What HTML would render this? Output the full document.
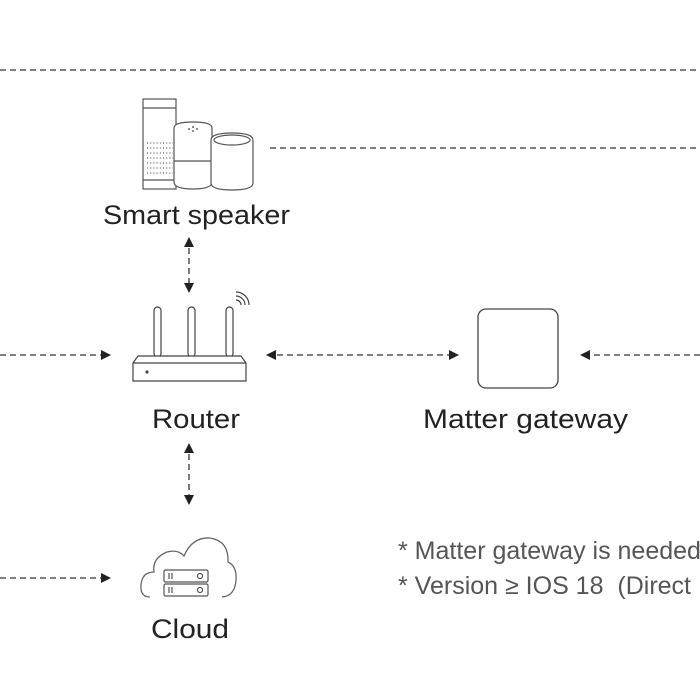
<!DOCTYPE html>
<html><head><meta charset="utf-8"><style>
html,body{margin:0;padding:0;background:#fff;}
svg{display:block}
</style></head><body>
<svg width="700" height="700" viewBox="0 0 700 700" xmlns="http://www.w3.org/2000/svg" font-family="Liberation Sans, DejaVu Sans, sans-serif">
<defs>
<marker id="a" viewBox="0 0 10 10" refX="9" refY="5" markerWidth="10" markerHeight="10" markerUnits="userSpaceOnUse" orient="auto-start-reverse"><path d="M0,0 L10,5 L0,10z" fill="#222"/></marker>
</defs>
<g stroke="#333" stroke-width="1.3" stroke-dasharray="6,4" fill="none">
<line x1="0" y1="70" x2="700" y2="70"/>
<line x1="270" y1="148" x2="700" y2="148"/>
<line x1="189" y1="238" x2="189" y2="292" marker-start="url(#a)" marker-end="url(#a)"/>
<line x1="0" y1="355" x2="110" y2="355" marker-end="url(#a)"/>
<line x1="267" y1="355" x2="458" y2="355" marker-start="url(#a)" marker-end="url(#a)"/>
<line x1="700" y1="355" x2="581" y2="355" marker-end="url(#a)"/>
<line x1="189" y1="444" x2="189" y2="504" marker-start="url(#a)" marker-end="url(#a)"/>
<line x1="0" y1="578" x2="110" y2="578" marker-end="url(#a)"/>
</g>
<g stroke="#555" stroke-width="1.2" fill="#fff">
<rect x="143" y="99" width="33" height="90"/>
<line x1="143" y1="108" x2="176" y2="108"/>
<line x1="143" y1="180" x2="176" y2="180"/>
<path d="M174,128 Q174,122 193,122 Q212,122 212,128 L212,182 Q212,189 193,189 Q174,189 174,182 Z"/>
<line x1="174" y1="161" x2="212" y2="161"/>
<path d="M211,140 Q211,133 232,133 Q253,133 253,140 L253,183 Q253,190 232,190 Q211,190 211,183 Z"/>
<ellipse cx="232" cy="140" rx="18" ry="5"/>
</g>
<g fill="#666">
<circle cx="193" cy="127" r="1"/><circle cx="189" cy="129" r="1"/><circle cx="197" cy="129" r="1"/><circle cx="193" cy="131" r="1"/>
</g>
<g stroke="#777" stroke-width="1.4" stroke-dasharray="1,2.2">
<line x1="147" y1="143" x2="173" y2="143"/><line x1="147" y1="148" x2="173" y2="148"/><line x1="147" y1="153" x2="173" y2="153"/><line x1="147" y1="158" x2="173" y2="158"/><line x1="147" y1="163" x2="173" y2="163"/><line x1="147" y1="168" x2="173" y2="168"/><line x1="147" y1="173" x2="173" y2="173"/>
</g>
<text x="103" y="224" font-size="27" textLength="187" lengthAdjust="spacingAndGlyphs" fill="#222">Smart speaker</text>
<g stroke="#444" stroke-width="1.2" fill="#fff">
<rect x="154" y="307" width="7" height="50" rx="3.5"/>
<rect x="188" y="307" width="7" height="50" rx="3.5"/>
<rect x="226" y="307" width="7" height="50" rx="3.5"/>
<path d="M138,356 L241,356 L246,363 L246,381 L133,381 L133,363 Z"/>
<line x1="133" y1="363" x2="246" y2="363"/>
<path d="M236,300 a5,5 0 0 1 5,5 M236,296 a9,9 0 0 1 9,9 M236,292 a13,13 0 0 1 13,13" fill="none"/>
</g>
<circle cx="147" cy="372" r="1.6" fill="#444"/>
<text x="152" y="428" font-size="27" textLength="88" lengthAdjust="spacingAndGlyphs" fill="#222">Router</text>
<rect x="478" y="309" width="80" height="79" rx="8" fill="#fff" stroke="#444" stroke-width="1.3"/>
<text x="423" y="428" font-size="27" textLength="205" lengthAdjust="spacingAndGlyphs" fill="#222">Matter gateway</text>
<path d="M150,597 Q140,597 141,585 Q142,572 154,572 Q152,558 167,552 Q178,549 184,556 Q192,537 210,538 Q229,541 228,562 Q237,566 236,580 Q235,596 222,597" fill="none" stroke="#666" stroke-width="1.3"/>
<g stroke="#555" stroke-width="1.2" fill="#fff">
<rect x="164" y="570" width="44" height="12" rx="1.5"/>
<rect x="164" y="584" width="44" height="12" rx="1.5"/>
<circle cx="200" cy="576" r="2.5"/><circle cx="200" cy="590" r="2.5"/>
<line x1="169" y1="573" x2="169" y2="579"/><line x1="172" y1="573" x2="172" y2="579"/>
<line x1="169" y1="587" x2="169" y2="593"/><line x1="172" y1="587" x2="172" y2="593"/>
</g>
<text x="151" y="638" font-size="27" textLength="78" lengthAdjust="spacingAndGlyphs" fill="#222">Cloud</text>
<text x="398" y="559" font-size="25" fill="#555">* Matter gateway is needed</text>
<text x="398" y="594" font-size="25" fill="#555" xml:space="preserve">* Version ≥ IOS 18  (Direct</text>
</svg>
</body></html>
